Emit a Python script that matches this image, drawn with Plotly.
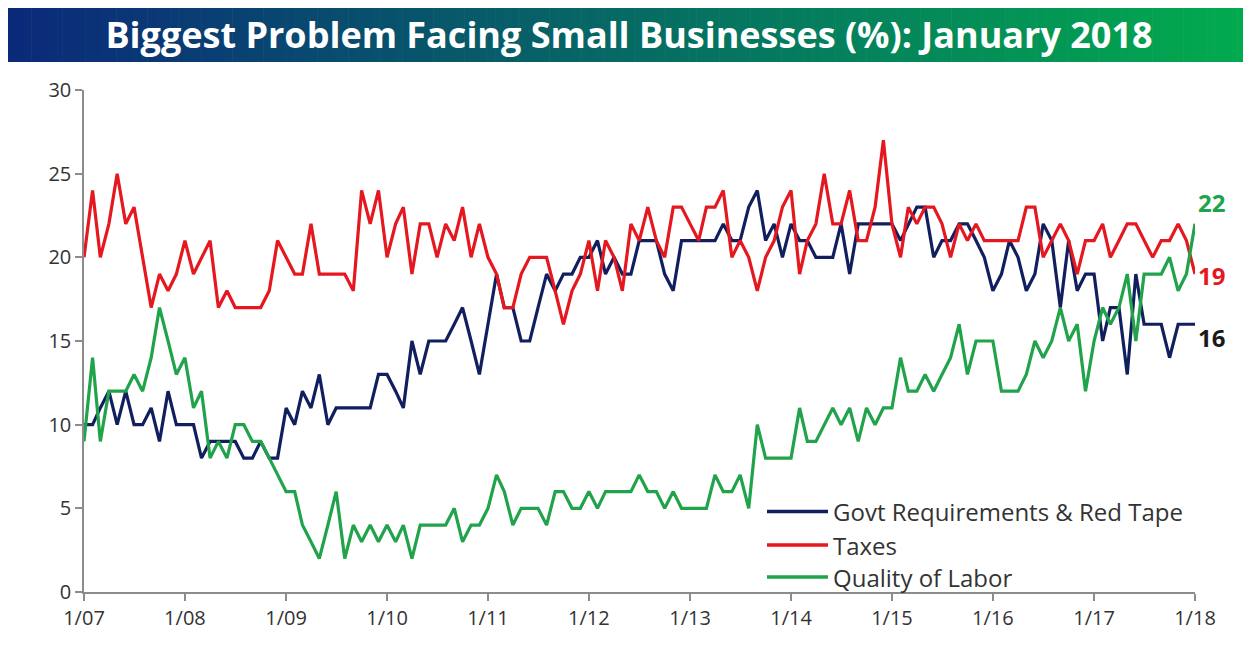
import plotly.graph_objects as go
import pandas as pd

# ---------------- data (monthly, Jan 2007 - Jan 2018) ----------------
start_month = "2007-01-01"
end_month = "2018-01-01"

govt_red_tape = [
    10, 10, 11, 12, 10, 12, 10, 10, 11, 9,
    12, 10, 10, 10, 8, 9, 9, 9, 9, 8,
    8, 9, 8, 8, 11, 10, 12, 11, 13, 10,
    11, 11, 11, 11, 11, 13, 13, 12, 11, 15,
    13, 15, 15, 15, 16, 17, 15, 13, 16, 19,
    17, 17, 15, 15, 17, 19, 18, 19, 19, 20,
    20, 21, 19, 20, 19, 19, 21, 21, 21, 19,
    18, 21, 21, 21, 21, 21, 22, 21, 21, 23,
    24, 21, 22, 20, 22, 21, 21, 20, 20, 20,
    22, 19, 22, 22, 22, 22, 22, 21, 22, 23,
    23, 20, 21, 21, 22, 22, 21, 20, 18, 19,
    21, 20, 18, 19, 22, 21, 17, 21, 18, 19,
    19, 15, 17, 17, 13, 19, 16, 16, 16, 14,
    16, 16, 16,
]

taxes = [
    20, 24, 20, 22, 25, 22, 23, 20, 17, 19,
    18, 19, 21, 19, 20, 21, 17, 18, 17, 17,
    17, 17, 18, 21, 20, 19, 19, 22, 19, 19,
    19, 19, 18, 24, 22, 24, 20, 22, 23, 19,
    22, 22, 20, 22, 21, 23, 20, 22, 20, 19,
    17, 17, 19, 20, 20, 20, 18, 16, 18, 19,
    21, 18, 21, 20, 18, 22, 21, 23, 21, 20,
    23, 23, 22, 21, 23, 23, 24, 20, 21, 20,
    18, 20, 21, 23, 24, 19, 21, 22, 25, 22,
    22, 24, 21, 21, 23, 27, 22, 20, 23, 22,
    23, 23, 22, 20, 22, 21, 22, 21, 21, 21,
    21, 21, 23, 23, 20, 21, 22, 21, 19, 21,
    21, 22, 20, 21, 22, 22, 21, 20, 21, 21,
    22, 21, 19,
]

quality_of_labor = [
    9, 14, 9, 12, 12, 12, 13, 12, 14, 17,
    15, 13, 14, 11, 12, 8, 9, 8, 10, 10,
    9, 9, 8, 7, 6, 6, 4, 3, 2, 4,
    6, 2, 4, 3, 4, 3, 4, 3, 4, 2,
    4, 4, 4, 4, 5, 3, 4, 4, 5, 7,
    6, 4, 5, 5, 5, 4, 6, 6, 5, 5,
    6, 5, 6, 6, 6, 6, 7, 6, 6, 5,
    6, 5, 5, 5, 5, 7, 6, 6, 7, 5,
    10, 8, 8, 8, 8, 11, 9, 9, 10, 11,
    10, 11, 9, 11, 10, 11, 11, 14, 12, 12,
    13, 12, 13, 14, 16, 13, 15, 15, 15, 12,
    12, 12, 13, 15, 14, 15, 17, 15, 16, 12,
    15, 17, 16, 17, 19, 15, 19, 19, 19, 20,
    18, 19, 22,
]

tick_labels = ["1/07", "1/08", "1/09", "1/10", "1/11", "1/12",
               "1/13", "1/14", "1/15", "1/16", "1/17", "1/18"]
tick_years = [2007, 2008, 2009, 2010, 2011, 2012,
              2013, 2014, 2015, 2016, 2017, 2018]

series_names = ["Govt Requirements & Red Tape", "Taxes", "Quality of Labor"]

# ---------------- styling ----------------
NAVY = "#121f5e"
RED = "#e5171f"
GREEN = "#20a34b"
colors = [NAVY, RED, GREEN]
label_colors = ["#1a1a1a", RED, GREEN]
FONT = "Open Sans"

months = pd.date_range(start_month, end_month, freq="MS")
tick_vals = [f"{y}-01-01" for y in tick_years]

# the page has an 8px body margin: work in page pixels, shift by it
OFF = 8
W, H = 1251 - OFF, 650 - OFF
L, R, T, B = 84 - OFF, 56, 90 - OFF, 58
PW, PH = W - L - R, H - T - B


def px_x(x):
    return (x - OFF - L) / PW


def px_y(y):
    return (H - B - (y - OFF)) / PH


fig = go.Figure()
all_series = [govt_red_tape, taxes, quality_of_labor]
for name, vals, col in zip(series_names, all_series, colors):
    fig.add_trace(go.Scatter(
        x=months, y=vals, name=name, mode="lines",
        line=dict(color=col, width=3.2), showlegend=False,
        hovertemplate="%{x|%b %Y}: %{y}<extra>" + name + "</extra>",
    ))

shapes = []
# gradient title banner (navy -> green)
c0 = (11, 42, 122)
c1 = (2, 170, 78)
n = 160
bx0, bx1, by0, by1 = 8, 1245, 8, 62
for i in range(n):
    t = i / (n - 1)
    c = tuple(round(c0[k] + (c1[k] - c0[k]) * t) for k in range(3))
    xa = bx0 + (bx1 - bx0) * i / n
    xb = bx0 + (bx1 - bx0) * (i + 1) / n + 0.6
    shapes.append(dict(
        type="rect", xref="paper", yref="paper",
        x0=px_x(xa), x1=px_x(min(xb, bx1)), y0=px_y(by1), y1=px_y(by0),
        fillcolor=f"rgb{c}", line=dict(width=0), layer="below",
    ))

# manual legend
legend_rows_y = [511.5, 545, 577]
annotations = []
for name, col, yy in zip(series_names, colors, legend_rows_y):
    shapes.append(dict(
        type="line", xref="paper", yref="paper",
        x0=px_x(767), x1=px_x(828), y0=px_y(yy), y1=px_y(yy),
        line=dict(color=col, width=3.5),
    ))
    annotations.append(dict(
        xref="paper", yref="paper", x=px_x(832), y=px_y(yy),
        text=name, showarrow=False, xanchor="left", yanchor="middle",
        borderpad=0,
        font=dict(family=FONT, size=24, color="#333333"),
    ))

# end-value labels
label_offsets = [15.2, 18.9, 23.3]
for vals, col, yv in zip(all_series, label_colors, label_offsets):
    annotations.append(dict(
        x=months[-1], y=yv, xref="x", yref="y",
        text=f"<b>{vals[-1]}</b>", showarrow=False,
        xanchor="left", yanchor="middle", xshift=1,
        font=dict(family=FONT, size=24, color=col),
    ))

fig.update_layout(
    width=W, height=H, autosize=False,
    margin=dict(l=L, r=R, t=T, b=B),
    paper_bgcolor="white", plot_bgcolor="white",
    title=dict(
        text="<b>Biggest Problem Facing Small Businesses (%): January 2018</b>",
        font=dict(family=FONT, size=36, color="white"),
        x=(629 - OFF) / W, xanchor="center", xref="container",
        y=1 - (35 - OFF) / H, yanchor="middle", yref="container",
    ),
    shapes=shapes,
    annotations=annotations,
    showlegend=False,
)

fig.update_xaxes(
    type="date", range=[start_month, end_month],
    tickmode="array", tickvals=tick_vals, ticktext=tick_labels,
    showgrid=False, zeroline=False,
    showline=True, linecolor="#8c8c8c", linewidth=1.5,
    ticks="outside", ticklen=7, tickcolor="#8c8c8c", tickwidth=1.5,
    tickfont=dict(family=FONT, size=20, color="#333333"),
)
fig.update_yaxes(
    range=[0, 30], tickmode="linear", tick0=0, dtick=5,
    showgrid=False, zeroline=False,
    showline=True, linecolor="#8c8c8c", linewidth=1.5,
    ticks="outside", ticklen=7, tickcolor="#8c8c8c", tickwidth=1.5,
    tickfont=dict(family=FONT, size=20, color="#333333"),
)

fig.write_html("out.html")
